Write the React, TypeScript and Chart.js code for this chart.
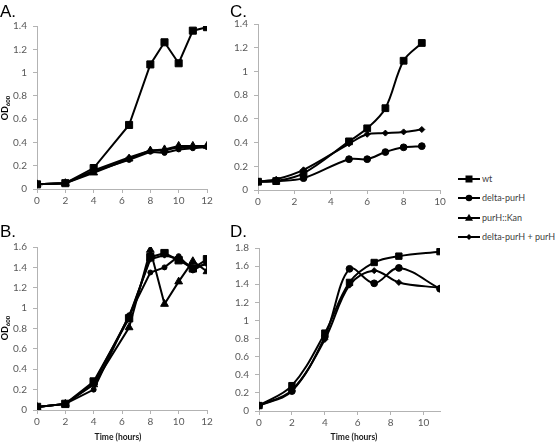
import React, { useEffect, useRef } from "react";
import { Chart, registerables } from "chart.js";
Chart.register(...registerables);

// ---------- Data ----------
// Panel A
const A_TIME = [0, 2, 4, 6.5, 8, 9, 10, 11, 12];
const A_WT = [0.04, 0.05, 0.18, 0.55, 1.07, 1.26, 1.08, 1.36, 1.39];
const A_DELTA = [0.04, 0.05, 0.15, 0.25, 0.32, 0.31, 0.34, 0.35, 0.36];
const A_KAN = [0.04, 0.05, 0.14, 0.26, 0.33, 0.34, 0.37, 0.37, 0.37];
const A_COMP = [0.04, 0.05, 0.16, 0.27, 0.33, 0.33, 0.36, 0.36, 0.37];

// Panel B
const B_TIME = [0, 2, 4, 6.5, 8, 9, 10, 11, 12];
const B_WT = [0.03, 0.06, 0.28, 0.9, 1.5, 1.54, 1.47, 1.39, 1.48];
const B_DELTA = [0.03, 0.06, 0.2, 0.93, 1.35, 1.4, 1.51, 1.37, 1.45];
const B_KAN = [0.03, 0.06, 0.25, 0.81, 1.57, 1.04, 1.26, 1.46, 1.36];
const B_COMP = [0.03, 0.06, 0.26, 0.92, 1.48, 1.52, 1.48, 1.4, 1.43];

// Panel C
const C_TIME = [0, 1, 2.5, 5, 6, 7, 8, 9];
const C_WT = [0.07, 0.075, 0.14, 0.41, 0.52, 0.69, 1.09, 1.24];
const C_DELTA = [0.07, 0.075, 0.1, 0.26, 0.26, 0.32, 0.36, 0.37];
const C_COMP = [0.07, 0.09, 0.17, 0.39, 0.47, 0.48, 0.49, 0.51];

// Panel D
const D_TIME = [0, 2, 4, 5.5, 7, 8.5, 11];
const D_WT = [0.06, 0.28, 0.86, 1.42, 1.64, 1.71, 1.76];
const D_DELTA = [0.06, 0.22, 0.82, 1.57, 1.41, 1.58, 1.35];
const D_COMP = [0.06, 0.23, 0.79, 1.39, 1.55, 1.42, 1.36];

const SERIES_NAMES = ["wt", "delta-purH", "purH::Kan", "delta-purH + purH"];
const PANEL_LABELS = ["A.", "B.", "C.", "D."];
const Y_TITLE = "OD";
const Y_TITLE_SUB = "600";
const X_TITLE = "Time (hours)";

// ---------- Styling ----------
const AXIS_COLOR = "#b3b3b3";
const TICK_COLOR = "#595959";
const FONT = "Lato, 'Open Sans', sans-serif";

type Series = { xs: number[]; ys: number[]; style: string; radius: number };

type PanelProps = {
  left: number;
  top: number;
  width: number;
  height: number;
  yW: number;
  xH: number;
  padTop: number;
  padRight: number;
  xMax: number;
  yMax: number;
  tension: number;
  series: Series[];
};

function Panel(p: PanelProps) {
  const ref = useRef<HTMLCanvasElement | null>(null);
  useEffect(() => {
    if (!ref.current) return;
    const chart = new Chart(ref.current, {
      type: "line",
      data: {
        datasets: p.series.map((s) => ({
          data: s.xs.map((x, i) => ({ x, y: s.ys[i] })),
          borderColor: "#000",
          backgroundColor: "#000",
          pointBackgroundColor: "#000",
          pointBorderColor: "#000",
          borderWidth: 2,
          pointBorderWidth: 1,
          pointStyle: s.style as any,
          pointRadius: s.radius,
          tension: p.tension,
          fill: false,
        })),
      },
      options: {
        responsive: false,
        maintainAspectRatio: false,
        animation: false,
        events: [],
        layout: { padding: { top: p.padTop, right: p.padRight, left: 0, bottom: 0 } },
        plugins: { legend: { display: false }, tooltip: { enabled: false } },
        scales: {
          x: {
            type: "linear",
            min: 0,
            max: p.xMax,
            afterFit: (s: any) => {
              s.height = p.xH;
            },
            ticks: {
              stepSize: 2,
              includeBounds: false,
              maxRotation: 0,
              padding: 2,
              color: TICK_COLOR,
              font: { family: FONT, size: 10 },
            },
            grid: { display: true, drawOnChartArea: false, drawTicks: true, tickLength: 4, color: AXIS_COLOR },
            border: { display: true, color: AXIS_COLOR, width: 1 },
          },
          y: {
            type: "linear",
            min: 0,
            max: p.yMax,
            afterFit: (s: any) => {
              s.width = p.yW;
            },
            ticks: {
              stepSize: 0.2,
              padding: 6,
              color: TICK_COLOR,
              font: { family: FONT, size: 10 },
              callback: (v: any) => String(Math.round(Number(v) * 10) / 10),
            },
            grid: { display: true, drawOnChartArea: false, drawTicks: true, tickLength: 4, color: AXIS_COLOR },
            border: { display: true, color: AXIS_COLOR, width: 1 },
          },
        },
      } as any,
    });
    return () => chart.destroy();
  }, []);
  return (
    <canvas
      ref={ref}
      width={p.width}
      height={p.height}
      style={{ position: "absolute", left: p.left, top: p.top, width: p.width, height: p.height }}
    />
  );
}

function LegendMarker({ kind }: { kind: number }) {
  return (
    <svg width={24} height={10} style={{ position: "absolute", left: 0, top: 0 }}>
      <line x1={0} y1={5} x2={22} y2={5} stroke="#000" strokeWidth={2} />
      {kind === 0 && <rect x={7.5} y={1.5} width={7} height={7} fill="#000" />}
      {kind === 1 && <circle cx={11} cy={5} r={3.3} fill="#000" />}
      {kind === 2 && <polygon points="11,0.8 15,7.8 7,7.8" fill="#000" />}
      {kind === 3 && <polygon points="11,2 14,5 11,8 8,5" fill="#000" />}
    </svg>
  );
}

const labelStyle: React.CSSProperties = {
  position: "absolute",
  fontFamily: "'Liberation Sans', Arial, sans-serif",
  fontSize: 17,
  lineHeight: "17px",
  color: "#000",
};

function YTitle({ cx, cy }: { cx: number; cy: number }) {
  return (
    <div
      style={{
        position: "absolute",
        left: cx,
        top: cy,
        transform: "translate(-50%, -50%) rotate(-90deg)",
        fontFamily: FONT,
        fontWeight: 700,
        fontSize: 9,
        lineHeight: "10px",
        whiteSpace: "nowrap",
        color: "#000",
      }}
    >
      {Y_TITLE}
      <span style={{ fontSize: 6, position: "relative", top: 2 }}>{Y_TITLE_SUB}</span>
    </div>
  );
}

function XTitle({ cx, cy }: { cx: number; cy: number }) {
  return (
    <div
      style={{
        position: "absolute",
        left: cx,
        top: cy,
        transform: "translate(-50%, -50%)",
        fontFamily: FONT,
        fontWeight: 700,
        fontSize: 8.5,
        lineHeight: "11px",
        whiteSpace: "nowrap",
        color: "#1a1a1a",
      }}
    >
      {X_TITLE}
    </div>
  );
}

export default function App() {
  const sA: Series[] = [
    { xs: A_TIME, ys: A_WT, style: "rect", radius: 5 },
    { xs: A_TIME, ys: A_DELTA, style: "circle", radius: 2.5 },
    { xs: A_TIME, ys: A_KAN, style: "triangle", radius: 4.5 },
    { xs: A_TIME, ys: A_COMP, style: "rectRot", radius: 3 },
  ];
  const sB: Series[] = [
    { xs: B_TIME, ys: B_WT, style: "rect", radius: 5.2 },
    { xs: B_TIME, ys: B_DELTA, style: "circle", radius: 2.5 },
    { xs: B_TIME, ys: B_KAN, style: "triangle", radius: 4.5 },
    { xs: B_TIME, ys: B_COMP, style: "rectRot", radius: 3 },
  ];
  const sC: Series[] = [
    { xs: C_TIME, ys: C_WT, style: "rect", radius: 4.8 },
    { xs: C_TIME, ys: C_DELTA, style: "circle", radius: 3.4 },
    { xs: C_TIME, ys: C_COMP, style: "rectRot", radius: 3 },
  ];
  const sD: Series[] = [
    { xs: D_TIME, ys: D_WT, style: "rect", radius: 4.5 },
    { xs: D_TIME, ys: D_DELTA, style: "circle", radius: 3.4 },
    { xs: D_TIME, ys: D_COMP, style: "rectRot", radius: 3 },
  ];
  const legendTops = [174, 193, 213, 232];
  return (
    <div style={{ position: "absolute", left: 0, top: 0, width: 560, height: 444, background: "#fff", overflow: "hidden" }}>
      <Panel left={0} top={10} width={222} height={210} yW={37} xH={31} padTop={16} padRight={15} xMax={12} yMax={1.4} tension={0} series={sA} />
      <Panel left={0} top={230} width={222} height={214} yW={37} xH={34} padTop={17} padRight={15} xMax={12} yMax={1.6} tension={0} series={sB} />
      <Panel left={222} top={10} width={230} height={210} yW={36} xH={30} padTop={14} padRight={12} xMax={10} yMax={1.4} tension={0.35} series={sC} />
      <Panel left={222} top={230} width={230} height={214} yW={37} xH={33} padTop={18} padRight={12} xMax={11} yMax={1.8} tension={0.35} series={sD} />

      <div style={{ ...labelStyle, left: 0, top: 3 }}>{PANEL_LABELS[0]}</div>
      <div style={{ ...labelStyle, left: 0, top: 223 }}>{PANEL_LABELS[1]}</div>
      <div style={{ ...labelStyle, left: 230, top: 3 }}>{PANEL_LABELS[2]}</div>
      <div style={{ ...labelStyle, left: 230, top: 223 }}>{PANEL_LABELS[3]}</div>

      <YTitle cx={5} cy={107.5} />
      <YTitle cx={5} cy={328} />
      <XTitle cx={118} cy={437} />
      <XTitle cx={354} cy={437} />

      {SERIES_NAMES.map((name, i) => (
        <div key={name} style={{ position: "absolute", left: 458, top: legendTops[i], height: 10, width: 110 }}>
          <LegendMarker kind={i} />
          <span
            style={{
              position: "absolute",
              left: 24,
              top: -1,
              fontFamily: FONT,
              fontSize: 9,
              lineHeight: "12px",
              color: "#404040",
              whiteSpace: "nowrap",
            }}
          >
            {name}
          </span>
        </div>
      ))}
    </div>
  );
}
